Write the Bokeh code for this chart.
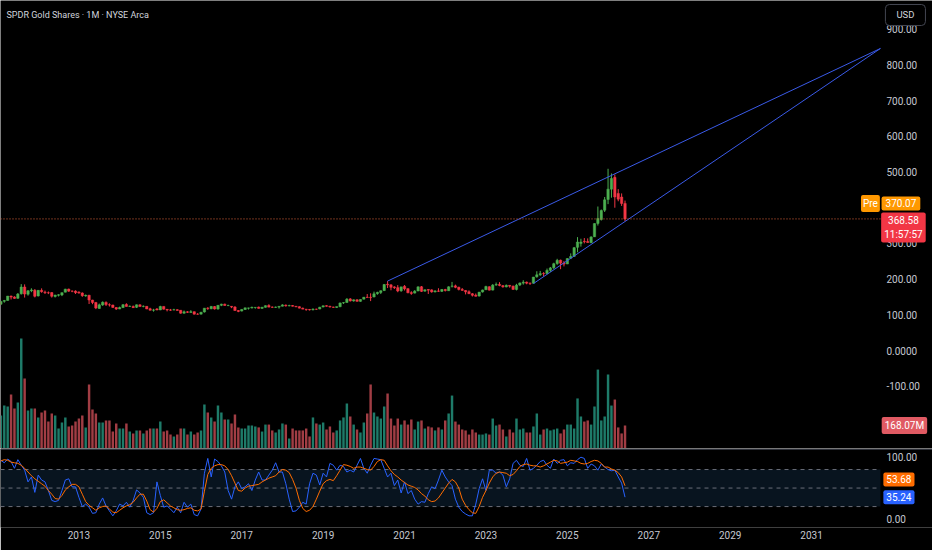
from bokeh.plotting import figure
from bokeh.models import (ColumnDataSource, Range1d, FixedTicker, Span, BoxAnnotation, Label)
from bokeh.layouts import column
from bokeh.embed import file_html
from bokeh.resources import INLINE
from bokeh.core.properties import value

# ---------------- data (monthly bars, index 0 = Jan 2011) ----------------
opens = [
    135.6, 129.6, 137.8, 140.3, 152.7, 150.0, 146.1, 159.0, 178.0, 157.6, 167.6, 168.8,
    153.0, 168.5, 163.5, 161.9, 162.2, 151.3, 154.7, 155.7, 163.5, 172.0, 166.1, 166.5,
    163.5, 161.1, 153.0, 154.8, 141.2, 134.8, 117.8, 127.4, 134.6, 128.0, 127.5, 120.3,
    116.3, 120.2, 129.1, 123.5, 123.6, 120.9, 127.9, 123.5, 123.7, 116.8, 113.0, 116.5,
    113.8, 123.5, 115.3, 113.7, 113.6, 114.3, 112.7, 104.5, 108.3, 106.7, 108.7, 101.8,
    101.9, 107.9, 118.7, 116.9, 123.0, 116.2, 126.6, 129.9, 125.9, 123.8, 121.9, 112.0,
    110.4, 114.8, 118.7, 119.0, 120.5, 121.6, 118.1, 121.0, 126.3, 121.6, 120.8, 121.5,
    124.0, 127.1, 125.0, 126.1, 123.9, 122.7, 118.5, 115.9, 115.0, 113.9, 115.8, 116.2,
    121.9, 125.6, 123.8, 121.9, 120.6, 122.7, 133.4, 134.4, 144.5, 138.7, 142.1, 137.7,
    143.8, 149.2, 149.0, 150.0, 159.2, 162.6, 167.9, 185.5, 184.0, 178.1, 176.0, 167.2,
    179.9, 173.3, 162.0, 160.8, 166.6, 178.6, 166.2, 170.8, 169.8, 164.2, 166.8, 165.7,
    170.8, 167.4, 180.0, 181.1, 177.2, 171.0, 168.2, 164.6, 159.0, 155.0, 152.5, 163.9,
    170.2, 178.7, 169.2, 183.5, 185.3, 181.6, 178.2, 182.5, 180.3, 171.0, 183.5, 188.8,
    191.5, 188.9, 188.3, 206.5, 212.0, 215.7, 215.5, 224.5, 231.8, 243.5, 253.0, 244.6,
    242.5, 258.5, 263.5, 289.0, 300.0, 306.0, 305.0, 302.0, 318.5, 356.0, 367.0, 393.0,
    423.0, 452.0, 485.0, 440.0, 430.0, 412.0,
]
highs = [
    136.9, 138.8, 141.7, 152.8, 153.5, 152.0, 160.9, 185.9, 185.2, 169.2, 174.3, 172.0,
    169.0, 174.1, 167.8, 165.3, 163.1, 156.1, 157.7, 162.4, 172.8, 173.3, 168.5, 168.6,
    165.7, 162.8, 156.8, 155.8, 142.0, 135.7, 131.4, 137.4, 137.7, 132.1, 128.1, 121.4,
    122.9, 130.2, 132.3, 126.1, 125.8, 128.6, 129.0, 126.3, 124.0, 119.7, 116.7, 118.8,
    125.2, 123.6, 116.1, 116.4, 116.9, 115.8, 113.1, 111.9, 110.3, 113.0, 109.2, 104.8,
    108.4, 118.8, 121.4, 124.6, 124.5, 126.9, 130.9, 131.2, 128.3, 124.4, 124.2, 113.0,
    115.9, 119.5, 119.8, 122.9, 121.1, 123.0, 121.5, 126.2, 129.5, 123.4, 123.2, 124.0,
    129.5, 128.9, 128.2, 127.5, 124.3, 124.0, 120.2, 116.3, 116.1, 117.8, 117.0, 122.2,
    125.4, 126.6, 125.3, 122.6, 122.8, 134.0, 135.5, 146.7, 146.7, 142.9, 143.4, 143.2,
    149.5, 158.1, 160.2, 165.0, 164.5, 168.3, 186.0, 194.5, 185.5, 179.9, 183.2, 177.5,
    183.3, 174.0, 166.0, 169.1, 179.3, 180.6, 171.1, 171.5, 171.3, 168.6, 174.4, 171.5,
    172.7, 179.9, 192.1, 184.5, 178.6, 175.1, 169.0, 168.5, 160.7, 159.7, 164.0, 170.4,
    181.4, 179.5, 186.0, 190.5, 191.5, 183.4, 184.8, 183.5, 181.7, 186.8, 190.1, 196.9,
    193.0, 190.0, 206.0, 222.0, 223.0, 219.5, 229.5, 234.0, 245.8, 256.8, 254.6, 250.5,
    258.0, 272.0, 290.0, 317.6, 313.0, 315.0, 314.0, 320.0, 356.0, 403.3, 395.0, 430.0,
    509.0, 496.0, 493.0, 452.0, 440.0, 420.0,
]
lows = [
    127.8, 128.5, 134.0, 140.0, 142.9, 144.8, 145.0, 156.7, 148.3, 153.6, 163.4, 148.8,
    151.2, 161.9, 158.2, 158.0, 148.3, 148.5, 151.3, 152.4, 163.0, 164.4, 163.3, 158.2,
    159.3, 150.3, 150.6, 130.3, 129.7, 115.9, 117.2, 125.1, 124.6, 123.2, 119.9, 113.7,
    115.9, 119.0, 123.1, 122.0, 119.2, 119.0, 123.0, 121.0, 116.0, 112.6, 108.9, 112.8,
    113.0, 114.8, 109.6, 111.1, 113.0, 112.0, 103.1, 103.4, 105.0, 105.8, 101.0, 100.2,
    101.3, 106.3, 113.7, 115.8, 114.7, 114.5, 124.3, 125.7, 124.2, 118.6, 111.5, 107.3,
    109.6, 113.8, 114.8, 118.0, 117.0, 117.5, 116.4, 120.2, 121.3, 119.2, 119.4, 117.4,
    123.6, 123.0, 123.9, 123.3, 121.4, 118.1, 115.8, 111.1, 112.0, 112.5, 113.8, 115.6,
    121.0, 122.9, 120.5, 119.4, 119.0, 121.4, 130.3, 134.0, 137.3, 136.9, 137.3, 136.6,
    143.0, 148.2, 138.4, 149.0, 156.2, 158.1, 166.5, 175.0, 168.7, 172.4, 163.3, 164.5,
    168.1, 160.4, 156.0, 160.0, 166.3, 164.2, 165.0, 158.4, 162.0, 162.7, 164.0, 164.0,
    165.3, 166.9, 176.5, 174.5, 168.3, 167.2, 157.1, 158.1, 151.2, 151.2, 151.4, 162.3,
    169.5, 168.3, 168.5, 181.2, 180.0, 176.0, 177.0, 176.0, 170.0, 168.3, 180.5, 184.5,
    185.5, 183.6, 188.0, 204.0, 209.0, 207.5, 213.7, 219.9, 228.0, 240.0, 227.8, 235.5,
    242.0, 256.0, 262.0, 275.0, 291.0, 300.0, 302.0, 300.8, 318.0, 350.0, 364.0, 388.0,
    410.0, 428.0, 400.0, 418.0, 405.0, 362.0,
]
closes = [
    129.6, 137.6, 139.9, 152.4, 149.6, 146.0, 158.3, 177.7, 158.1, 167.1, 169.6, 151.9,
    168.5, 164.8, 162.1, 161.6, 151.9, 155.2, 156.1, 162.1, 171.9, 166.3, 165.9, 162.0,
    161.0, 153.7, 154.5, 141.3, 134.4, 119.1, 127.9, 135.2, 128.9, 127.7, 120.8, 116.1,
    120.3, 128.1, 123.6, 123.8, 120.1, 128.0, 123.2, 123.9, 116.2, 112.7, 113.6, 113.6,
    123.4, 115.9, 113.7, 113.1, 114.0, 112.4, 104.6, 108.3, 106.9, 108.9, 101.9, 101.5,
    106.9, 118.6, 117.6, 123.6, 116.3, 126.5, 129.9, 126.1, 126.0, 121.6, 112.1, 109.6,
    115.1, 119.5, 119.1, 121.0, 120.9, 118.0, 121.3, 125.6, 121.5, 121.0, 121.6, 123.7,
    127.7, 125.0, 125.8, 124.0, 122.4, 118.6, 115.9, 114.9, 113.8, 115.9, 115.5, 121.3,
    125.4, 123.9, 122.0, 120.9, 122.9, 133.2, 134.2, 143.8, 138.9, 142.1, 137.7, 142.9,
    149.3, 148.4, 148.1, 158.8, 162.9, 167.4, 185.0, 183.9, 177.1, 176.0, 166.7, 178.4,
    172.6, 161.8, 159.9, 166.2, 178.4, 165.6, 170.1, 169.0, 164.2, 166.9, 166.0, 171.0,
    167.9, 178.4, 180.7, 176.9, 171.1, 168.5, 164.2, 159.1, 154.7, 151.9, 163.5, 169.6,
    179.2, 169.0, 183.2, 184.8, 182.0, 178.3, 182.6, 180.3, 171.1, 183.1, 189.3, 191.2,
    188.5, 188.1, 205.7, 212.0, 215.3, 215.0, 224.3, 231.3, 243.1, 252.6, 244.6, 242.1,
    257.6, 263.3, 288.1, 303.8, 303.6, 304.8, 302.5, 318.1, 355.5, 370.0, 392.0, 422.0,
    452.0, 482.0, 430.0, 424.0, 412.0, 368.58,
]
# monthly volume, millions of shares
volumes = [
    219, 241, 314, 307, 395, 292, 336, 804, 512, 278, 292, 292,
    227, 263, 278, 197, 256, 241, 146, 190, 227, 161, 168, 197,
    219, 241, 154, 468, 285, 256, 190, 190, 205, 205, 124, 183,
    146, 146, 183, 124, 110, 132, 132, 110, 132, 146, 146, 146,
    197, 124, 132, 102, 88, 102, 146, 146, 102, 124, 102, 117,
    132, 322, 263, 227, 197, 314, 263, 212, 212, 183, 249, 154,
    146, 146, 168, 168, 161, 154, 124, 175, 175, 132, 117, 139,
    183, 175, 73, 146, 132, 132, 132, 146, 88, 227, 183, 175,
    190, 139, 161, 117, 132, 205, 227, 329, 234, 175, 139, 117,
    190, 256, 468, 263, 234, 219, 307, 402, 219, 168, 219, 175,
    205, 175, 212, 139, 197, 205, 146, 161, 154, 132, 154, 139,
    205, 256, 387, 197, 175, 139, 132, 102, 139, 117, 102, 102,
    110, 102, 219, 168, 175, 139, 88, 139, 117, 219, 139, 146,
    117, 117, 161, 256, 102, 139, 146, 132, 139, 146, 110, 139,
    175, 175, 146, 366, 234, 197, 205, 175, 307, 577, 205, 234,
    541, 314, 358, 154, 110, 168.07,
]
stoch_k = [
    94, 95, 91, 97, 93, 82, 96, 87, 79, 60, 68, 43,
    71, 63, 60, 46, 30, 28, 30, 46, 63, 65, 52, 52,
    35, 20, 24, 19, 9, 10, 24, 34, 21, 13, 5, 13,
    24, 21, 27, 19, 30, 47, 42, 35, 10, 7, 10, 60,
    38, 19, 21, 16, 10, 19, 10, 27, 19, 24, 7, 5,
    16, 74, 98, 68, 97, 93, 86, 76, 46, 32, 52, 60,
    49, 52, 57, 46, 63, 76, 63, 63, 71, 79, 91, 76,
    76, 57, 32, 12, 13, 19, 27, 24, 57, 74, 71, 55,
    74, 68, 90, 87, 79, 87, 85, 76, 79, 76, 87, 98,
    82, 74, 87, 98, 97, 96, 82, 68, 74, 54, 63, 42,
    60, 41, 46, 32, 24, 28, 27, 41, 52, 49, 63, 79,
    68, 60, 54, 32, 19, 12, 8, 5, 5, 24, 49, 65,
    46, 79, 79, 74, 76, 71, 52, 65, 90, 95, 87, 85,
    98, 79, 82, 87, 93, 95, 87, 82, 97, 90, 95, 96,
    86, 91, 90, 96, 100, 98, 82, 89, 86, 79, 89, 84,
    80, 78, 79, 68, 58, 35.24,
]
stoch_d = [
    92, 94, 96, 95, 92, 91, 90, 87, 82, 76, 70, 65,
    61, 57, 53, 46, 40, 33, 32, 38, 47, 52, 56, 56,
    52, 40, 28, 22, 18, 14, 18, 20, 21, 16, 11, 10,
    14, 18, 21, 23, 27, 34, 40, 40, 29, 15, 11, 17,
    28, 31, 26, 21, 18, 15, 14, 15, 17, 18, 14, 13,
    16, 45, 72, 82, 86, 88, 88, 86, 80, 70, 58, 46,
    45, 50, 53, 54, 55, 56, 60, 63, 66, 68, 70, 76,
    80, 79, 75, 64, 50, 30, 17, 12, 14, 20, 32, 45,
    57, 62, 64, 62, 70, 79, 88, 87, 85, 82, 84, 84,
    82, 80, 79, 85, 93, 96, 95, 86, 78, 72, 68, 63,
    59, 55, 53, 51, 47, 41, 37, 31, 28, 29, 34, 42,
    50, 58, 64, 60, 50, 32, 22, 15, 10, 9, 20, 35,
    46, 58, 68, 74, 76, 75, 74, 70, 72, 78, 85, 88,
    89, 87, 86, 86, 84, 86, 89, 92, 95, 94, 90, 91,
    92, 95, 94, 93, 90, 89, 90, 93, 95, 94, 90, 84,
    84, 81, 79, 75, 68, 53.68,
]
# wedge trend lines: (month index, price) anchors
upper_line_x = [115, 260.3]
upper_line_y = [194.5, 846.0]
lower_line_x = [158, 260.3]
lower_line_y = [187.5, 846.0]

last_price = 368.58
pre_price = 370.07
last_volume = 168.07
countdown = "11:57:57"
stoch_levels = [80, 50, 20]

year_ticks = [24, 48, 72, 96, 120, 144, 168, 192, 216, 240]
year_labels = ["2013", "2015", "2017", "2019", "2021", "2023", "2025", "2027", "2029", "2031"]
price_ticks = [-100, 0, 100, 200, 300, 500, 600, 700, 800, 900]
price_labels = ["-100.00", "0.0000", "100.00", "200.00", "300.00", "500.00",
                "600.00", "700.00", "800.00", "900.00"]
rsi_ticks = [0, 100]
rsi_labels = ["0.00", "100.00"]

n = len(closes)
assert len(opens) == n and len(highs) == n and len(lows) == n
assert len(volumes) == n and len(stoch_k) == n and len(stoch_d) == n

# ---------------- styling / layout ----------------
BG = "#000000"
UP, DOWN = "#4caf50", "#f23645"
VUP, VDOWN = "#1e7b69", "#a13d44"
TXT = "#c5c8d0"
FONT = "Roboto"

W = 932
X_START, X_END = 0.884, 275.65   # month-index range across the whole canvas width
X_EDGE = 260.3                   # right edge of the chart panes (price scale strip follows)

idx = list(range(n))
up = [c >= o for o, c in zip(opens, closes)]
src = ColumnDataSource(dict(
    x=idx, o=opens, h=highs, l=lows, c=closes,
    btop=[max(o, c) for o, c in zip(opens, closes)],
    bbot=[min(o, c) for o, c in zip(opens, closes)],
    cc=[UP if u else DOWN for u in up],
    vc=[VUP if u else VDOWN for u in up],
    v=volumes,
))

x_range = Range1d(X_START, X_END)

p1 = figure(width=W, height=448, x_range=x_range, y_range=Range1d(-274.5, 980.4),
            x_axis_location=None, y_axis_location=None,
            output_backend="svg", toolbar_location=None,
            min_border_left=0, min_border_right=0, min_border_top=0, min_border_bottom=0,
            background_fill_color=BG, border_fill_color=BG, outline_line_color=None)
p1.extra_y_ranges = {"vol": Range1d(0, 3275)}
p1.grid.visible = False

p1.vbar(x="x", top="v", bottom=0, width=0.72, y_range_name="vol",
        fill_color="vc", line_color=None, source=src)
p1.segment(x0="x", y0="l", x1="x", y1="h", line_color="cc", line_width=1, source=src)
p1.vbar(x="x", top="btop", bottom="bbot", width=0.7, fill_color="cc",
        line_color="cc", line_width=0.5, source=src)
p1.line(upper_line_x, upper_line_y, line_color="#3a5ae8", line_width=1)
p1.line(lower_line_x, lower_line_y, line_color="#3a5ae8", line_width=1)
p1.segment(x0=[X_START], y0=[last_price], x1=[X_EDGE], y1=[last_price],
           line_color="#e0623a", line_dash="1 2", line_width=1)

# price scale (right strip)
p1.text(x=[X_EDGE] * len(price_ticks), y=price_ticks, text=price_labels, x_offset=6,
        text_align="left", text_baseline="middle", text_font=value(FONT),
        text_font_size="10px", text_color=TXT)


def box(fig, x, y, text, bg, x_offset=0, color="#ffffff", pad=3, radius=2, border=None,
        size="10px", **kw):
    # pad: int, or (horizontal, vertical)
    fig.add_layout(Label(x=x, y=y, x_offset=x_offset, text=text, text_align="center",
                         text_baseline="middle", text_font=FONT, text_font_size=size,
                         text_color=color, background_fill_color=bg,
                         background_fill_alpha=1.0, border_line_color=border,
                         padding=pad, border_radius=radius, **kw))


p1.add_layout(Label(x=X_START, y=941, x_offset=6,
                    text="SPDR Gold Shares \u00b7 1M \u00b7 NYSE Arca",
                    text_align="left", text_baseline="middle", text_font=FONT,
                    text_font_size="9px", text_color="#d1d4dc"))
box(p1, X_EDGE, 939.8, "USD", BG, x_offset=25, color="#d1d4dc", pad=(11, 5), radius=4,
    border="#434651", size="9.5px")
box(p1, X_EDGE, 411.8, "Pre", "#ff9800", x_offset=-10, pad=(2, 3))
box(p1, X_EDGE, 411.8, "%.2f" % pre_price, "#ff9800", x_offset=20.5, pad=(4, 3))
box(p1, X_EDGE, 344.5, "%.2f\n%s" % (last_price, countdown), "#f23645", x_offset=23, pad=3)
box(p1, X_EDGE, last_volume, "%.2fM" % last_volume, "#e05a63", x_offset=24, pad=3,
    y_range_name="vol")

# ---------------- Stoch RSI pane ----------------
p2 = figure(width=W, height=102, x_range=x_range, y_range=Range1d(-13.9, 114.1),
            y_axis_location=None, output_backend="svg", toolbar_location=None,
            min_border_left=0, min_border_right=0, min_border_top=0, min_border_bottom=23,
            background_fill_color=BG, border_fill_color=BG, outline_line_color=None)
p2.grid.visible = False
p2.add_layout(BoxAnnotation(bottom=stoch_levels[-1], top=stoch_levels[0], right=X_EDGE,
                            fill_color="#08141f", fill_alpha=1.0, line_color=None,
                            level="underlay"))
p2.add_layout(Span(location=112.8, dimension="width", line_color="#3a3e49", line_width=1))
p2.segment(x0=[X_START] * 3, y0=stoch_levels, x1=[X_EDGE] * 3, y1=stoch_levels,
           line_color="#6a6d78", line_dash="4 4", line_width=1)
p2.line(idx, stoch_k, line_color="#2962ff", line_width=1)
p2.line(idx, stoch_d, line_color="#ff6d00", line_width=1)
p2.text(x=[X_EDGE] * len(rsi_ticks), y=rsi_ticks, text=rsi_labels, x_offset=6,
        text_align="left", text_baseline="middle", text_font=value(FONT),
        text_font_size="10px", text_color=TXT)

ax2 = p2.xaxis[0]
ax2.ticker = FixedTicker(ticks=year_ticks)
ax2.major_label_overrides = {t: s for t, s in zip(year_ticks, year_labels)}
ax2.axis_line_color = None
ax2.major_tick_line_color = None
ax2.minor_tick_line_color = None
ax2.major_tick_out = 0
ax2.major_tick_in = 0
ax2.minor_tick_out = 0
ax2.major_label_text_font = FONT
ax2.major_label_text_font_size = "10px"
ax2.major_label_text_color = TXT
ax2.major_label_standoff = 3

box(p2, X_EDGE, 63.9, "%.2f" % stoch_d[-1], "#ff6d00", x_offset=18.5, pad=3)
box(p2, X_EDGE, stoch_k[-1], "%.2f" % stoch_k[-1], "#2962ff", x_offset=18.5, pad=3)

layout = column(p1, p2, spacing=0)
open("out.html", "w").write(file_html(layout, INLINE, title="SPDR Gold Shares"))
